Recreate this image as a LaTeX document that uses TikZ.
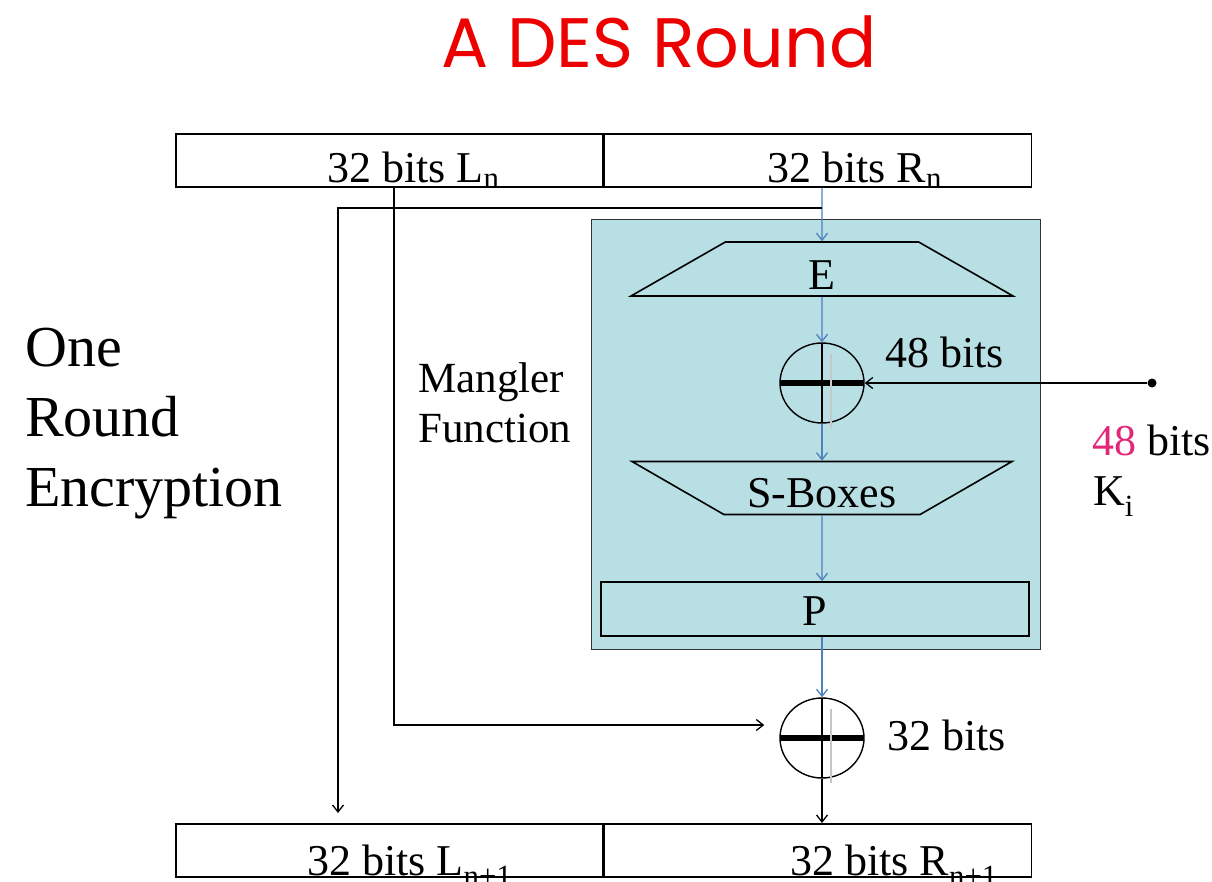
\documentclass[tikz,border=0pt]{standalone}
\usepackage{fontspec}
\setmainfont{Liberation Serif}
\newfontfamily\titlefont{Poppins}
\usetikzlibrary{arrows.meta,shapes.geometric}

\definecolor{manglerbg}{RGB}{184,223,228}
\definecolor{flowblue}{RGB}{79,129,189}
\definecolor{keypink}{RGB}{226,38,120}
\definecolor{titlered}{RGB}{236,0,0}

\tikzset{
    half/.style={draw, line width=1.6pt, minimum width=427, minimum height=53, inner sep=0, anchor=north west},
    block/.style={draw, line width=1.6pt, inner sep=0},
    funnel/.style={block, trapezium, trapezium stretches body=true, text depth=0pt,
        trapezium left angle=#1, trapezium right angle=#1},
    xorgate/.style={ellipse, draw, line width=1.4pt, minimum width=84, minimum height=80, inner sep=0,
        path picture={
            \draw[line width=2pt] (path picture bounding box.north) -- (path picture bounding box.south);
            \draw[line width=6pt] (path picture bounding box.west) -- (path picture bounding box.east);
        }},
    flow/.style={->, draw=flowblue, line width=1.3pt},
    wire/.style={->, line width=1.3pt},
    ghost/.style={draw=black!22, line width=2.5pt},
    bits/.style={inner sep=0, anchor=base west}
}

\begin{document}
\begin{tikzpicture}
  [
    x                  = 1pt,
    y                  = -1pt,
    >                  = {Straight Barb[length=7pt, width=11pt]},
    every node/.style  = {font=\fontsize{44}{50}\selectfont},
  ]
  \useasboundingbox (0,0) rectangle (1212,882);

  \node [font=\titlefont\fontsize{70}{80}\selectfont, text=titlered, anchor=base] (title) at (659,68) {A DES Round};

  % input and output halves
  \node [half] (ln) at (175,133) {};
  \node [half] (rn) at (ln.north east) {};
  \node [half] (lm) at (175,823) {};
  \node [half] (rm) at (lm.north east) {};
  \node [bits] (lntext) at (327,183) {32 bits L\textsubscript{n}};
  \node [bits] (rntext) at (767,183) {32 bits R\textsubscript{n}};
  \node [bits] (lmtext) at (307,875) {32 bits L\textsubscript{n+1}};
  \node [bits] (rmtext) at (790,875) {32 bits R\textsubscript{n+1}};

  \node [font=\fontsize{58}{70}\selectfont, align=left, anchor=north west, inner sep=0] (round) at (25,328) {One\\Round\\Encryption};

  % mangler function
  \node [draw=black!80, fill=manglerbg, line width=1.4pt, minimum width=449, minimum height=430, anchor=north west] (mangler) at (591,219) {};
  \node [font=\fontsize{43}{50}\selectfont, align=left, anchor=north west, inner sep=0] (manglab) at (418,362) {Mangler\\Function};

  \node [funnel=24, minimum width=382, minimum height=54, text height=42pt] (e) at (822,269) {E};
  \node [xorgate] (xa) at (822,383) {};
  \node [funnel=157, minimum width=380, minimum height=53, text height=39pt] (sbox) at (822,488) {S-Boxes};
  \node [block, minimum width=428, minimum height=54, text height=32pt, text depth=0pt] (p) at (815,609) {P};
  \node [xorgate] (xb) at (822,738) {};
  \node [bits] (xatext) at (885,367) {48 bits};
  \node [bits] (xbtext) at (887,750) {32 bits};

  % round key
  \node [circle, fill, inner sep=0, minimum size=9] (keydot) at (1152,383) {};
  \node [bits] (keybits) at (1092,455) {\textcolor{keypink}{48} bits};
  \node [bits] (keyname) at (1093,505) {K\textsubscript{i}};

  \draw [flow] (rn.south -| xa) -- (e);
  \draw [flow] (e) -- (xa);
  \draw [flow] (xa) -- (sbox);
  \draw [flow] (sbox) -- (sbox |- p.north);
  \draw [flow] (p.south -| xb) -- (xb);
  \draw [wire] (keydot) -- (xa);
  \draw [wire] (xb) -- (xb |- rm.north);

  \coordinate (tap) at (822,208);
  \draw [wire, shorten >=10pt] (tap) -| ([xshift=163]lm.north west);
  \draw [wire] ([xshift=219]ln.south west) |- ([xshift=-15,yshift=13]xb.west);

  \foreach \g in {xa,xb}
    \draw [ghost] ([xshift=9,yshift=29]\g.center) -- ([xshift=9,yshift=-45]\g.center);
\end{tikzpicture}
\end{document}
